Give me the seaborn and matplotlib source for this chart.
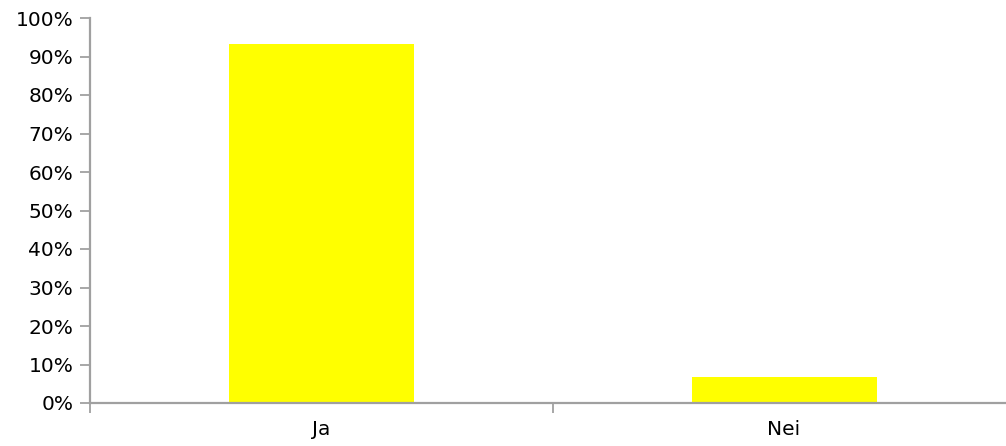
import matplotlib
matplotlib.use("Agg")
import matplotlib.pyplot as plt
import seaborn as sns
import pandas as pd
from matplotlib.ticker import FixedLocator, PercentFormatter

categories = ["Ja", "Nei"]
shares = [93.3, 6.7]
y_ticks = list(range(0, 101, 10))

sns.set_style("white")
plt.rcParams["font.family"] = ["DejaVu Sans"]

fig = plt.figure(figsize=(10.06, 4.46), dpi=100)
W, H = 1006, 446
ax = fig.add_axes([90 / W, 1 - 403 / H, (1015.4 - 90) / W, (403 - 18) / H])

df = pd.DataFrame({"svar": categories, "andel": shares})
sns.barplot(data=df, x="svar", y="andel", color="#ffff00", saturation=1,
            width=0.4, ax=ax, edgecolor="none")

axis_color = "#a0a0a0"
ax.set_xlim(-0.5, 1.5)
ax.set_ylim(0, 100)
ax.set_yticks(y_ticks)
ax.yaxis.set_major_formatter(PercentFormatter(decimals=0))
ax.set_xlabel("")
ax.set_ylabel("")

for side in ["top", "right"]:
    ax.spines[side].set_visible(False)
for side in ["left", "bottom"]:
    ax.spines[side].set_color(axis_color)
    ax.spines[side].set_linewidth(1.6)
    ax.spines[side].set_clip_on(False)

# Category boundary ticks on x, labels centred without ticks
ax.xaxis.set_minor_locator(FixedLocator([-0.5, 0.5, 1.5]))
ax.tick_params(axis="x", which="major", bottom=True, length=0, pad=12,
               labelsize=14.5, colors="black")
ax.tick_params(axis="x", which="minor", bottom=True, length=7, width=1.3,
               color=axis_color, direction="out")
ax.tick_params(axis="y", which="major", left=True, length=7, width=1.3, color=axis_color,
               direction="out", labelsize=14.5, labelcolor="black", pad=5)

fig.savefig("out.png", dpi=100)
